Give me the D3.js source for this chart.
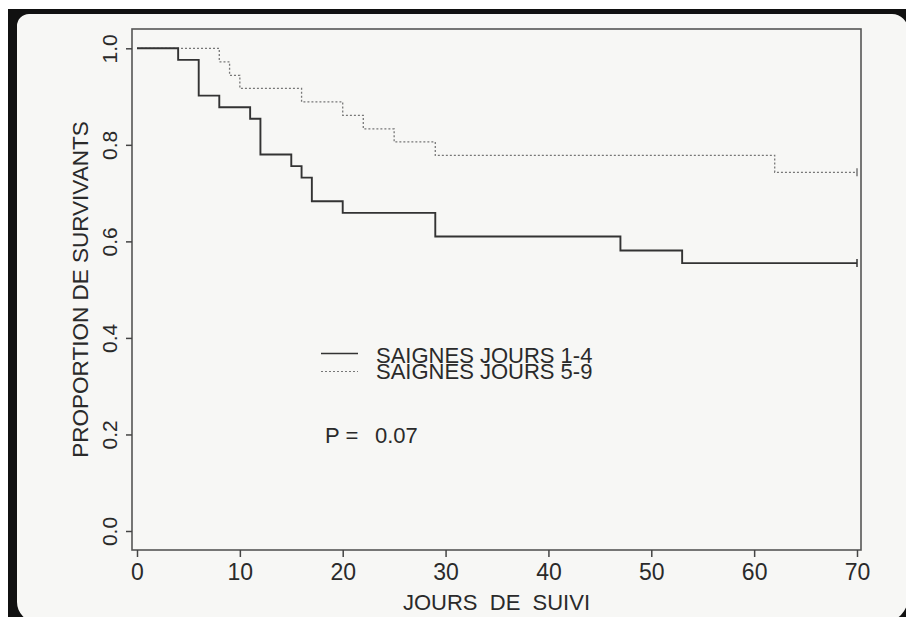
<!DOCTYPE html>
<html><head><meta charset="utf-8">
<script src="https://cdn.jsdelivr.net/npm/d3@7"></script>
<style>html,body{margin:0;padding:0;background:#f7f7f5;overflow:hidden}svg{display:block}text{font-family:"Liberation Sans",Arial,Helvetica,sans-serif;fill:#2a2a2a}</style>
</head><body>
<script>
// ---- data ----
const timesA = [0, 4, 6, 8, 11, 12, 15, 16, 17, 20, 29, 47, 53, 70];
const survA  = [1, 0.976, 0.902, 0.878, 0.854, 0.780, 0.756, 0.732, 0.683, 0.659, 0.610, 0.581, 0.555, 0.555];
const timesB = [0, 8, 9, 10, 16, 20, 22, 25, 29, 62, 70];
const survB  = [1, 0.972, 0.944, 0.917, 0.889, 0.861, 0.833, 0.806, 0.778, 0.743, 0.743];
const xTicks = [0, 10, 20, 30, 40, 50, 60, 70];
const yTicks = [0, 0.2, 0.4, 0.6, 0.8, 1.0];
const legendLabels = ["SAIGNES JOURS 1-4", "SAIGNES JOURS 5-9"];
const pLabel = "P =", pValue = "0.07";
const xTitle = "JOURS  DE  SUIVI", yTitle = "PROPORTION DE SURVIVANTS";

const W = 906, H = 617;
const svg = d3.select("body").append("svg").attr("width", W).attr("height", H);

// slide frame (photographed slide mount): light base, black bands on top/left, dark corner wedges
svg.append("rect").attr("x",0).attr("y",0).attr("width",W).attr("height",H).attr("fill","#f7f7f5");
svg.append("rect").attr("x",0).attr("y",0).attr("width",W).attr("height",9).attr("fill","#ffffff");
svg.append("rect").attr("x",0).attr("y",0).attr("width",8).attr("height",H).attr("fill","#ffffff");
svg.append("rect").attr("x",8).attr("y",9).attr("width",W-8).attr("height",5).attr("fill","#111");
svg.append("rect").attr("x",8).attr("y",9).attr("width",9).attr("height",H-9).attr("fill","#111");
// rounded corner wedges
function wedge(cx, cy, r, qx, qy){ // qx,qy: direction of corner (+1/-1)
  const p = d3.path();
  const ox = cx + qx*r, oy = cy + qy*r; // outer corner point
  p.moveTo(cx + qx*r, cy);
  p.lineTo(ox + qx*2, cy);
  p.lineTo(ox + qx*2, oy + qy*2);
  p.lineTo(cx, oy + qy*2);
  p.lineTo(cx, cy + qy*r);
  p.arc(cx, cy, r, qy>0 ? Math.PI/2 : -Math.PI/2, qx>0 ? 0 : Math.PI, (qx*qy>0));
  p.closePath();
  svg.append("path").attr("d", p.toString()).attr("fill","#111");
}
wedge(17+12, 14+12, 12, -1, -1);   // top-left
wedge(908-16, 14+16, 16, 1, -1);   // top-right
wedge(908-24, 622-24, 24, 1, 1);   // bottom-right
wedge(17+20, 622-20, 20, -1, 1);   // bottom-left

const x = d3.scaleLinear().domain([0,70]).range([137,857]);
const y = d3.scaleLinear().domain([0,1]).range([531,48.3]);
const box = {l:132, r:861, t:29, b:550};

// plot box
svg.append("rect").attr("x",box.l).attr("y",box.t).attr("width",box.r-box.l).attr("height",box.b-box.t)
  .attr("fill","none").attr("stroke","#555").attr("stroke-width",1.6);

// x axis
const xa = svg.append("g").attr("transform",`translate(0,${box.b})`)
  .call(d3.axisBottom(x).tickValues(xTicks).tickFormat(d3.format("d")).tickSize(7).tickPadding(7));
xa.select(".domain").remove();
xa.selectAll(".tick line").attr("stroke","#444").attr("stroke-width",1.5);
xa.selectAll(".tick text").attr("font-size",23).attr("fill","#2a2a2a").attr("dy","0.71em")
  .attr("font-family","Liberation Sans, Arial, sans-serif");

// y axis
const ya = svg.append("g").attr("transform",`translate(${box.l},0)`)
  .call(d3.axisLeft(y).tickValues(yTicks).tickFormat(d3.format(".1f")).tickSize(6));
ya.select(".domain").remove();
ya.selectAll(".tick line").attr("stroke","#444").attr("stroke-width",1.5);
ya.selectAll(".tick text").attr("font-size",21).attr("fill","#2a2a2a")
  .attr("font-family","Liberation Sans, Arial, sans-serif")
  .attr("x",null).attr("dy",null).attr("text-anchor","middle")
  .attr("transform","translate(-15,0) rotate(-90)");

// curves
const step = d3.line().x(d=>x(d[0])).y(d=>y(d[1])).curve(d3.curveStepAfter);
const dataA = timesA.map((t,i)=>[t,survA[i]]);
const dataB = timesB.map((t,i)=>[t,survB[i]]);
svg.append("path").attr("d",step(dataB)).attr("fill","none").attr("stroke","#777").attr("stroke-width",1.3).attr("stroke-dasharray","2,2");
svg.append("path").attr("d",step(dataA)).attr("fill","none").attr("stroke","#333").attr("stroke-width",1.9);

// censor marks at end
[[dataA[dataA.length-1],"#333"],[dataB[dataB.length-1],"#777"]].forEach(([d,c])=>{
  svg.append("line").attr("x1",x(d[0])).attr("x2",x(d[0])).attr("y1",y(d[1])-4).attr("y2",y(d[1])+4).attr("stroke",c).attr("stroke-width",1.5);
});

// axis titles
svg.append("text").attr("x",(box.l+box.r)/2).attr("y",610).attr("text-anchor","middle").attr("font-size",22)
  .style("white-space","pre").text(xTitle);
svg.append("text").attr("transform",`translate(88,${(box.t+box.b)/2}) rotate(-90)`).attr("text-anchor","middle").attr("font-size",22.5).text(yTitle);

// legend (the two labels overlap slightly in the original)
const leg = svg.append("g");
leg.append("line").attr("x1",321).attr("x2",358).attr("y1",353.5).attr("y2",353.5).attr("stroke","#333").attr("stroke-width",1.6);
leg.append("line").attr("x1",321).attr("x2",358).attr("y1",371.5).attr("y2",371.5).attr("stroke","#777").attr("stroke-width",1.2).attr("stroke-dasharray","2,2");
leg.append("text").attr("x",376).attr("y",363).attr("font-size",22).text(legendLabels[0]);
leg.append("text").attr("x",376).attr("y",379).attr("font-size",22).text(legendLabels[1]);

svg.append("text").attr("x",325).attr("y",443).attr("font-size",22).text(pLabel);
svg.append("text").attr("x",375).attr("y",443).attr("font-size",22).text(pValue);
</script>
</body></html>
